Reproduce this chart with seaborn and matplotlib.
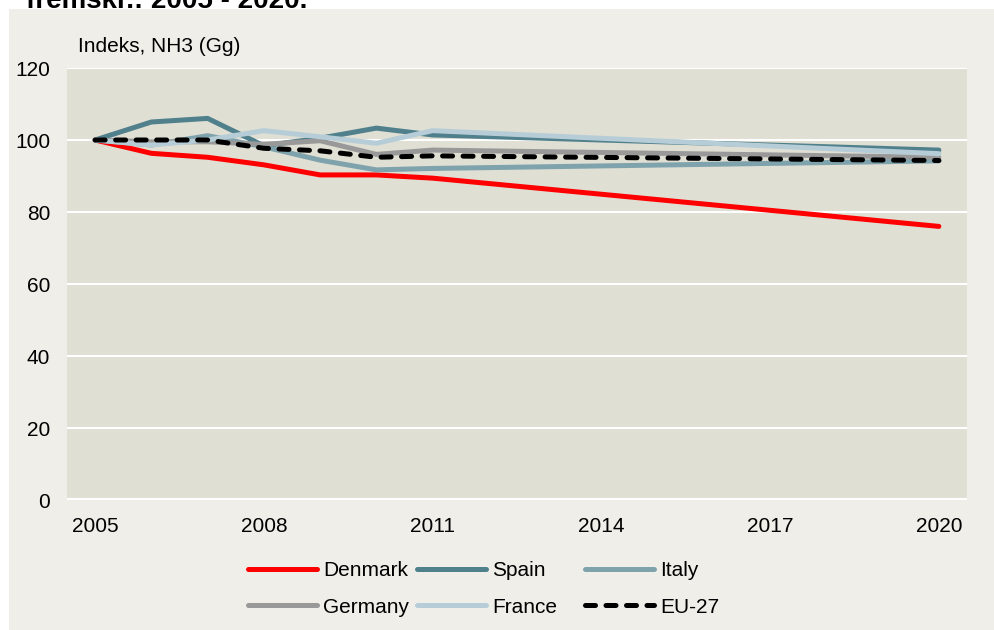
import pandas as pd
import matplotlib.pyplot as plt
import seaborn as sns
from matplotlib.patches import Rectangle
from matplotlib.lines import Line2D

# data (index, 2005 = 100)
years = [2005, 2006, 2007, 2008, 2009, 2010, 2011, 2020]
denmark = [100, 96.3, 95.2, 93.1, 90.3, 90.3, 89.4, 76.0]
spain = [100, 105.0, 106.0, 98.4, 100.5, 103.3, 101.4, 97.2]
italy = [100, 98.6, 101.2, 98.1, 94.4, 91.7, 92.1, 94.2]
germany = [100, 99.5, 99.5, 98.8, 99.8, 96.0, 97.2, 95.2]
france = [100, 98.6, 100.0, 102.6, 100.9, 99.1, 102.6, 96.2]
eu27 = [100, 100, 100, 97.7, 97.0, 95.2, 95.6, 94.3]

countries = ["Denmark", "Spain", "Italy", "Germany", "France", "EU-27"]
colors = ["#ff0000", "#4f808c", "#7fa3ad", "#999999", "#b6cdd7", "#000000"]
x_ticks = [2005, 2008, 2011, 2014, 2017, 2020]
y_ticks = [0, 20, 40, 60, 80, 100, 120]

series = [denmark, spain, italy, germany, france, eu27]
df = pd.DataFrame({
    "year": years * len(countries),
    "value": [v for s in series for v in s],
    "country": [c for c in countries for _ in years],
})

sns.set_style("white", {"axes.facecolor": "#e0dfd4", "text.color": "black"})
plt.rcParams["font.family"] = ["Liberation Sans", "DejaVu Sans"]
plt.rcParams["text.color"] = "black"

fig = plt.figure(figsize=(9.95, 6.3), dpi=100, facecolor="white")
fig.patches.append(Rectangle((9 / 995, 0), 1, 1 - 9 / 630, transform=fig.transFigure,
                             facecolor="#efeee8", edgecolor="none", zorder=-10))
ax = fig.add_axes([67 / 995, 130 / 630, 900 / 995, 432 / 630])

fs = 15
lw = 3.6
for country, color in zip(countries, colors):
    sub = df[df["country"] == country]
    if country == "EU-27":
        sns.lineplot(data=sub, x="year", y="value", ax=ax, color=color, lw=lw,
                     zorder=5, legend=False)
        l = ax.lines[-1]
        l.set_dashes((2.0, 2.1))
        l.set_dash_capstyle("round")
    else:
        sns.lineplot(data=sub, x="year", y="value", ax=ax, color=color, lw=lw,
                     legend=False, solid_capstyle="round")

ax.set_xlim(2004.5, 2020.5)
ax.set_ylim(0, 120)
ax.set_xticks(x_ticks)
ax.set_yticks(y_ticks)
ax.grid(axis="y", color="white", lw=1.5)
ax.axhline(0, color="white", lw=3, zorder=3)
ax.set_axisbelow(True)
for s in ax.spines.values():
    s.set_visible(False)
ax.tick_params(length=0, labelsize=fs, colors="black", labelcolor="black")
ax.tick_params(axis="x", pad=12)
ax.tick_params(axis="y", pad=12)
ax.set_xlabel("")
ax.set_ylabel("")

fig.text(78 / 995, 1 - 46 / 630, "Indeks, NH3 (Gg)", fontsize=fs, va="center", ha="left",
         color="black")
# title of the source page, cut off at the top edge as in the reference
fig.text(307 / 995, 1 - 8 / 630, "fremskr.: 2005 - 2020.", fontsize=20, fontweight="bold",
         ha="right", va="baseline", color="black")

# legend: three columns, two rows, like the reference
col_x = [248, 417, 585]
for i, xpos in enumerate(col_x):
    handles = []
    for j in (i, i + 3):
        c = countries[j]
        if c == "EU-27":
            h = Line2D([], [], color=colors[j], lw=lw, dashes=(2.0, 2.1), dash_capstyle="round")
        else:
            h = Line2D([], [], color=colors[j], lw=lw, solid_capstyle="round")
        handles.append((h, c))
    fig.legend([h for h, _ in handles], [c for _, c in handles],
               loc="upper left", bbox_to_anchor=(xpos / 995, 1 - 561 / 630),
               frameon=False, fontsize=fs, handlelength=3.3, handletextpad=0.3,
               labelspacing=0.85, borderpad=0, borderaxespad=0, labelcolor="black")

fig.savefig("out.png", dpi=100, facecolor=fig.get_facecolor())
